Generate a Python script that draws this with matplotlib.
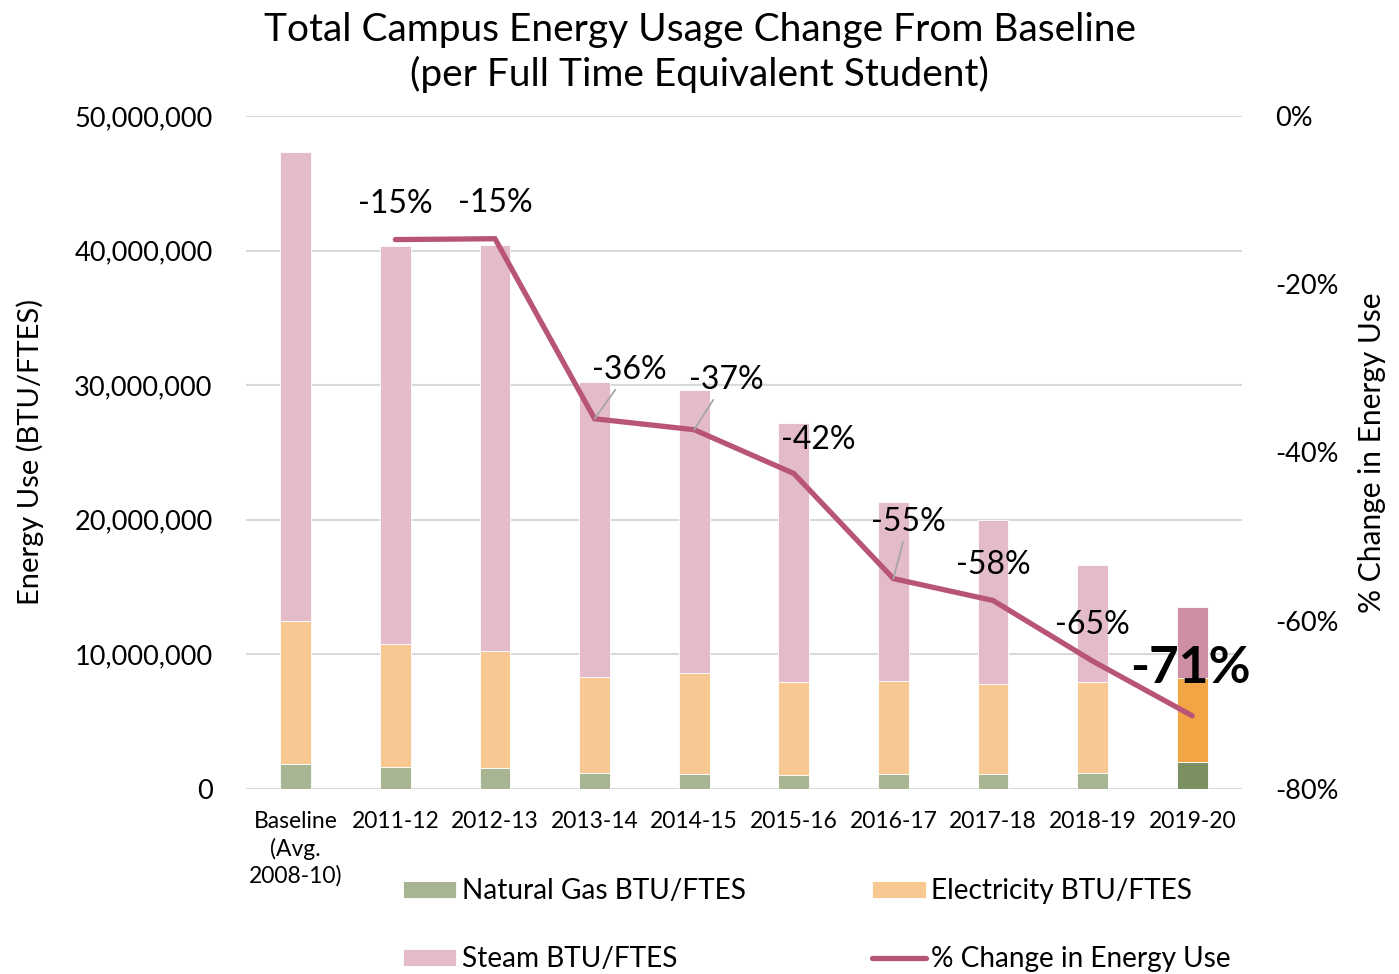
import matplotlib.pyplot as plt
import numpy as np

plt.rcParams["font.family"] = ["Lato", "DejaVu Sans"]

# categories and values (BTU per FTES)
years = ["Baseline\n(Avg.\n2008-10)", "2011-12", "2012-13", "2013-14", "2014-15",
         "2015-16", "2016-17", "2017-18", "2018-19", "2019-20"]
gas = [1.83e6, 1.63e6, 1.56e6, 1.19e6, 1.11e6, 1.04e6, 1.09e6, 1.11e6, 1.19e6, 1.98e6]
electricity = [10.63e6, 9.17e6, 8.67e6, 7.09e6, 7.49e6, 6.89e6, 6.93e6, 6.65e6, 6.79e6, 6.24e6]
steam = [34.83e6, 29.52e6, 30.16e6, 21.96e6, 21.02e6, 19.26e6, 13.28e6, 12.20e6, 8.64e6, 5.28e6]
pct_change = [np.nan, -14.7, -14.6, -36.0, -37.3, -42.5, -55.0, -57.6, -64.8, -71.3]
pct_labels = ["", "-15%", "-15%", "-36%", "-37%", "-42%", "-55%", "-58%", "-65%", "-71%"]

# colours: normal years, last year highlighted
gas_col = ["#A7B592"] * 9 + ["#7B9062"]
elec_col = ["#F7C891"] * 9 + ["#F2A545"]
steam_col = ["#E4BCC9"] * 9 + ["#CE8FA5"]
line_col = "#B85577"

fig = plt.figure(figsize=(13.99, 9.74), dpi=100)
ax = fig.add_axes([0.1758, 0.19, 0.712, 0.691])
ax2 = ax.twinx()

x = np.arange(len(years))
w = 0.31
gas_a = np.array(gas)
elec_a = np.array(electricity)
steam_a = np.array(steam)
b1 = ax.bar(x, gas_a, w, color=gas_col, edgecolor="white", linewidth=0.6, zorder=2,
            label="Natural Gas BTU/FTES")
b2 = ax.bar(x, elec_a, w, bottom=gas_a, color=elec_col, edgecolor="white", linewidth=0.6,
            zorder=2, label="Electricity BTU/FTES")
b3 = ax.bar(x, steam_a, w, bottom=gas_a + elec_a, color=steam_col, edgecolor="white",
            linewidth=0.6, zorder=2, label="Steam BTU/FTES")

ax.set_ylim(0, 50e6)
ax.set_xlim(-0.5, len(years) - 0.5)
ax.set_yticks(np.arange(0, 50e6 + 1, 10e6))
ax.set_yticklabels([f"{int(v):,}" for v in np.arange(0, 50e6 + 1, 10e6)])
ax.grid(axis="y", color="#D9D9D9", linewidth=1.5, zorder=0)
ax.set_axisbelow(True)
ax.set_xticks(x)
ax.set_xticklabels(years, fontsize=16.5, linespacing=1.3)
ax.tick_params(axis="y", labelsize=19.5, length=0, pad=24)
ax.tick_params(axis="x", length=0, pad=16)
for s in ax.spines.values():
    s.set_visible(False)
ax.set_ylabel("Energy Use (BTU/FTES)", fontsize=21, labelpad=22)

ln, = ax2.plot(x, pct_change, color=line_col, linewidth=3.8, solid_capstyle="round",
               solid_joinstyle="miter", zorder=3, label="% Change in Energy Use")
ax2.set_ylim(-80, 0)
ax2.set_yticks(np.arange(-80, 1, 20))
ax2.set_yticklabels([f"{v}%" for v in np.arange(-80, 1, 20)])
ax2.tick_params(axis="y", labelsize=19.5, length=0, pad=24)
for s in ax2.spines.values():
    s.set_visible(False)
ax2.set_ylabel("% Change in Energy Use", fontsize=21.5, labelpad=14)

# data labels: offsets in pixels from each line point
offsets = [(0, 0), (0, 36), (0, 36), (35, 49), (32, 50), (24, 33), (15, 57),
           (0, 35), (0, 36), (-2, 47)]
leaders = [3, 4, 6]
for i in range(1, len(years)):
    big = i == len(years) - 1
    kw = dict(xy=(x[i], pct_change[i]), xytext=offsets[i], textcoords="offset pixels",
              ha="center", va="center", fontsize=37 if big else 23,
              fontweight="bold" if big else "normal", color="black", zorder=5)
    if i in leaders:
        kw["arrowprops"] = dict(arrowstyle="-", color="#A6A6A6", lw=1.3,
                                shrinkA=2, shrinkB=0)
    ax2.annotate(pct_labels[i], **kw)

fig.suptitle("Total Campus Energy Usage Change From Baseline\n(per Full Time Equivalent Student)",
             fontsize=28, y=0.988, linespacing=1.27)

fig.legend([b1, b3, b2, ln],
           ["Natural Gas BTU/FTES", "Steam BTU/FTES", "Electricity BTU/FTES",
            "% Change in Energy Use"],
           ncol=2, loc="lower center", bbox_to_anchor=(0.584, -0.024), frameon=False,
           fontsize=20.2, handlelength=1.9, handleheight=0.55, handletextpad=0.2,
           labelspacing=1.5, columnspacing=4.5)

fig.savefig("out.png", dpi=100)
